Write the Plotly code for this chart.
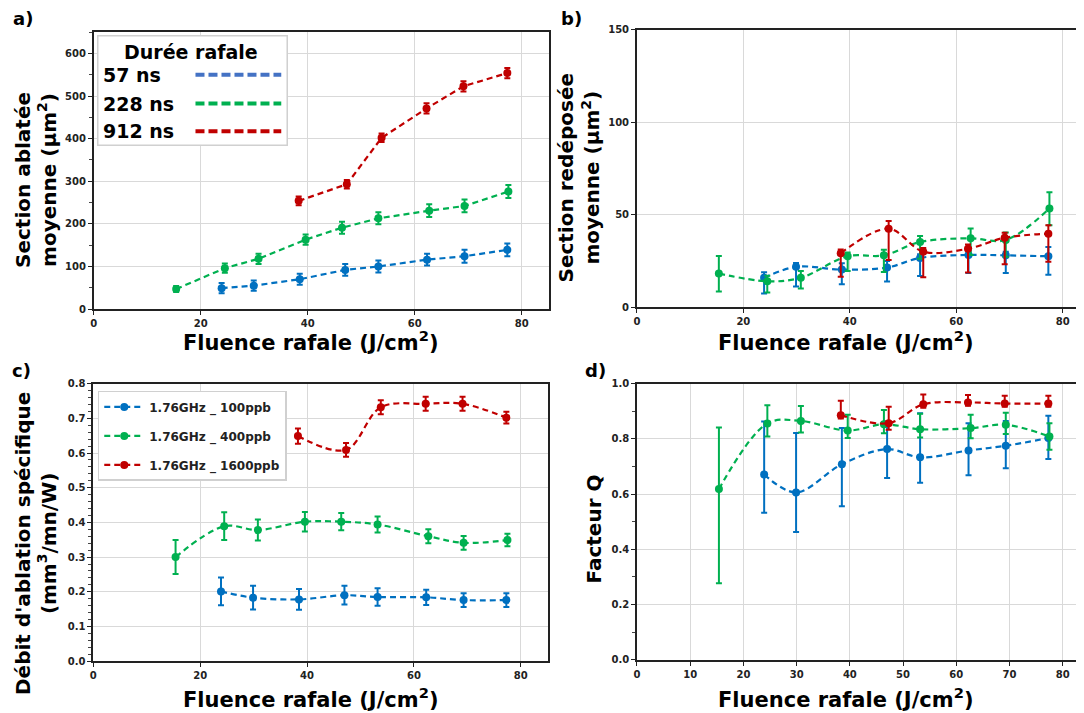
import plotly.graph_objects as go

W, H = 1084, 713
OFF_X = 8     # page body margin compensation
OFF_Y = 9
SY = 0.99     # measured vertical scale of the photographed page

# ---------------- data ----------------
series_a_names = ["57 ns", "228 ns", "912 ns"]
series_c_names = ["1.76GHz _ 100ppb", "1.76GHz _ 400ppb", "1.76GHz _ 1600ppb"]

x_57 = [23.9, 29.9, 38.5, 47.0, 53.2, 62.3, 69.3, 77.3]
x_228 = [15.4, 24.5, 30.8, 39.6, 46.4, 53.2, 62.7, 69.3, 77.5]
x_912 = [38.3, 47.3, 53.8, 62.2, 69.1, 77.3]

# panel a : Section ablatée moyenne
a_y_57 = [49, 55, 70, 92, 100, 116, 124, 139]
a_e_57 = [12, 12, 13, 14, 14, 14, 15, 15]
a_y_228 = [47, 96, 118, 163, 191, 213, 231, 242, 276]
a_e_228 = [7, 11, 12, 12, 14, 14, 15, 15, 15]
a_y_912 = [254, 293, 402, 471, 523, 554]
a_e_912 = [10, 10, 10, 12, 12, 12]

# panel b : Section redéposée moyenne
b_y_57 = [16.0, 21.9, 20.4, 21.5, 26.7, 28.3, 28.1, 27.6]
b_up_57 = [3, 2, 3.4, 3.6, 2, 2, 2, 5]
b_dn_57 = [8.5, 10.6, 7.9, 7.5, 9.7, 9.8, 9.6, 10]
b_y_228 = [18.3, 14.1, 16.0, 27.6, 28.1, 35.3, 37.3, 36.4, 53.4]
b_up_228 = [9.5, 3, 3.7, 2, 3, 3.2, 5.3, 4, 8.8]
b_dn_228 = [9.7, 6, 5.8, 8, 9, 9, 9, 9, 9]
b_y_912 = [29.2, 42.5, 30.1, 31.7, 37.6, 39.8]
b_up_912 = [2, 4.1, 2, 2.3, 2.7, 4.5]
b_dn_912 = [12.7, 16.9, 13.8, 12.9, 14.3, 15.1]

# panel c : Débit d'ablation spécifique
c_y_57 = [0.201, 0.183, 0.178, 0.190, 0.185, 0.184, 0.176, 0.176]
c_e_57 = [0.04, 0.034, 0.03, 0.027, 0.025, 0.022, 0.02, 0.02]
c_y_228 = [0.300, 0.389, 0.378, 0.402, 0.402, 0.394, 0.360, 0.341, 0.349]
c_e_228 = [0.049, 0.04, 0.03, 0.028, 0.025, 0.023, 0.02, 0.02, 0.018]
c_y_912 = [0.649, 0.609, 0.732, 0.742, 0.742, 0.702]
c_e_912 = [0.022, 0.02, 0.02, 0.02, 0.02, 0.017]

# panel d : Facteur Q
d_y_57 = [0.671, 0.606, 0.708, 0.763, 0.733, 0.758, 0.775, 0.803]
d_up_57 = [0.192, 0.215, 0.131, 0.10, 0.16, 0.099, 0.09, 0.081]
d_dn_57 = [0.139, 0.143, 0.152, 0.105, 0.092, 0.09, 0.081, 0.076]
d_y_228 = [0.618, 0.856, 0.865, 0.830, 0.853, 0.835, 0.839, 0.851, 0.809]
d_up_228 = [0.223, 0.066, 0.054, 0.057, 0.052, 0.056, 0.048, 0.044, 0.048]
d_dn_228 = [0.341, 0.047, 0.042, 0.027, 0.033, 0.03, 0.037, 0.033, 0.048]
d_y_912 = [0.886, 0.857, 0.925, 0.932, 0.928, 0.928]
d_up_912 = [0.052, 0.059, 0.036, 0.027, 0.028, 0.028]
d_dn_912 = [0.012, 0.024, 0.012, 0.012, 0.012, 0.012]

BLUE, GREEN, RED = "#0070C0", "#00B050", "#C00000"
LEG_COLORS_A = ["#4472C4", "#00B050", "#C00000"]
FONT = "DejaVu Sans"
DASH = "6px,4px"


def px(x):
    return (x - OFF_X) / W


def py(y):
    return 1 - ((y - OFF_Y) / SY) / H


def trace(x, y, color, xa, ya, up, dn=None, shape="linear", name=None, legend=None):
    err = dict(type="data", array=up, visible=True, color=color, thickness=2, width=3)
    if dn is not None:
        err.update(symmetric=False, arrayminus=dn)
    return go.Scatter(
        x=x, y=y, xaxis=xa, yaxis=ya, mode="lines+markers",
        line=dict(color=color, width=2.2, dash=DASH, shape=shape, smoothing=1.0),
        marker=dict(color=color, size=8, symbol="circle"),
        error_y=err, name=name, showlegend=legend is not None,
        legend=legend if legend else "legend",
        legendgroup=name,
    )


fig = go.Figure()
# panel a
fig.add_trace(trace(x_57, a_y_57, BLUE, "x", "y", a_e_57))
fig.add_trace(trace(x_228, a_y_228, GREEN, "x", "y", a_e_228))
fig.add_trace(trace(x_912, a_y_912, RED, "x", "y", a_e_912))
# panel b
fig.add_trace(trace(x_57, b_y_57, BLUE, "x2", "y2", b_up_57, b_dn_57, "spline"))
fig.add_trace(trace(x_228, b_y_228, GREEN, "x2", "y2", b_up_228, b_dn_228, "spline"))
fig.add_trace(trace(x_912, b_y_912, RED, "x2", "y2", b_up_912, b_dn_912, "spline"))
# panel c
fig.add_trace(trace(x_57, c_y_57, BLUE, "x3", "y3", c_e_57, None, "spline", series_c_names[0], "legend2"))
fig.add_trace(trace(x_228, c_y_228, GREEN, "x3", "y3", c_e_228, None, "spline", series_c_names[1], "legend2"))
fig.add_trace(trace(x_912, c_y_912, RED, "x3", "y3", c_e_912, None, "spline", series_c_names[2], "legend2"))
# panel d
fig.add_trace(trace(x_57, d_y_57, BLUE, "x4", "y4", d_up_57, d_dn_57, "spline"))
fig.add_trace(trace(x_228, d_y_228, GREEN, "x4", "y4", d_up_228, d_dn_228, "spline"))
fig.add_trace(trace(x_912, d_y_912, RED, "x4", "y4", d_up_912, d_dn_912, "spline"))

tickfont = dict(family=FONT, size=10, color="#222", weight="bold")


def axis(domain, rng, dtick, anchor, mirror=True, minor=None, fmt=None):
    d = dict(domain=domain, range=rng, dtick=dtick, tick0=0, anchor=anchor,
             showline=True, linecolor="#222", linewidth=1.6, mirror=mirror,
             ticks="outside", ticklen=4, tickcolor="#222", tickwidth=1,
             showgrid=True, gridcolor="#d9d9d9", gridwidth=1, zeroline=False,
             tickfont=tickfont, fixedrange=True)
    if minor is not None:
        d["minor"] = dict(dtick=minor, ticks="outside", ticklen=3, tickcolor="#444", showgrid=False)
    if fmt:
        d["tickformat"] = fmt
    return d


# pixel boxes (window coordinates)
A = dict(x0=91, x1=547, y0=28.3, y1=306.7)
B = dict(x0=635.6, x1=1084, y0=25.7, y1=305)
C = dict(x0=90.5, x1=546, y0=381.7, y1=660.7)
D = dict(x0=635.7, x1=1084, y0=381.7, y1=659.3)

fig.update_layout(
    width=W, height=H, margin=dict(l=0, r=0, t=0, b=0),
    paper_bgcolor="white", plot_bgcolor="white",
    xaxis=axis([px(A["x0"]), px(A["x1"])], [0, 85], 20, "y"),
    yaxis=axis([py(A["y1"]), py(A["y0"])], [0, 650], 100, "x", minor=50),
    xaxis2=axis([px(B["x0"]), px(B["x1"])], [0, 84], 20, "y2"),
    yaxis2=axis([py(B["y1"]), py(B["y0"])], [0, 150], 50, "x2", mirror=False),
    xaxis3=axis([px(C["x0"]), px(C["x1"])], [0, 85], 20, "y3"),
    yaxis3=axis([py(C["y1"]), py(C["y0"])], [0, 0.8], 0.1, "x3", minor=0.02, fmt=".1f"),
    xaxis4=axis([px(D["x0"]), px(D["x1"])], [0, 84], 10, "y4"),
    yaxis4=axis([py(D["y1"]), py(D["y0"])], [0, 1.0], 0.2, "x4", minor=0.1, fmt=".1f"),
    showlegend=True,
    legend=dict(visible=False),
    legend2=dict(x=px(95), y=py(389), xanchor="left", yanchor="top",
                 bgcolor="white", bordercolor="#d0d0d0", borderwidth=1.5,
                 font=dict(family=FONT, size=12, color="#222", weight="bold"),
                 tracegroupgap=10, traceorder="grouped", itemwidth=40),
)

P = dict(xref="paper", yref="paper", showarrow=False)
ann = []
xt = "Fluence rafale (J/cm<sup>2</sup>)"
for cx, cy in [(309, 339), (845, 339), (309, 698), (845, 698)]:
    ann.append(dict(x=px(cx), y=py(cy), text=xt, xanchor="center", yanchor="middle",
                    font=dict(family=FONT, size=21, color="black", weight="bold"), **P))
ytitles = [
    ("Section ablatée<br>moyenne (µm<sup>2</sup>)", 33, 177),
    ("Section redéposée<br>moyenne (µm<sup>2</sup>)", 578, 174),
    ("Débit d'ablation spécifique<br>(mm<sup>3</sup>/mn/W)", 33, 542),
    ("Facteur Q", 593, 528),
]
for t, cx, cy in ytitles:
    ann.append(dict(x=px(cx), y=py(cy), text=t, textangle=-90,
                    xanchor="center", yanchor="middle",
                    font=dict(family=FONT, size=20, color="black", weight="bold"), **P))
for t, cx, cy in [("a)", 20, 15), ("b)", 570, 15), ("c)", 19, 368), ("d)", 594, 368)]:
    ann.append(dict(x=px(cx), y=py(cy), text=t, xanchor="center", yanchor="middle",
                    font=dict(family=FONT, size=18, color="black", weight="bold"), **P))

# manual legend for panel a
shapes = [dict(type="rect", xref="paper", yref="paper", x0=px(95), x1=px(285), y0=py(142), y1=py(32),
               fillcolor="white", line=dict(color="#d0d0d0", width=1.5), layer="above")]
ann.append(dict(x=px(189), y=py(48), text="Durée rafale", xanchor="center", yanchor="middle",
                font=dict(family=FONT, size=19, color="black", weight="bold"), **P))
for i, (nm, yy) in enumerate(zip(series_a_names, [71, 100, 128])):
    ann.append(dict(x=px(98), y=py(yy), text=nm, xanchor="left", yanchor="middle",
                    font=dict(family=FONT, size=19, color="black", weight="bold"), **P))
    shapes.append(dict(type="line", xref="paper", yref="paper", x0=px(193), x1=px(279), y0=py(yy), y1=py(yy),
                       line=dict(color=LEG_COLORS_A[i], width=4, dash="9px,4px"), layer="above"))

fig.update_layout(annotations=ann, shapes=shapes)
fig.write_html("out.html")
